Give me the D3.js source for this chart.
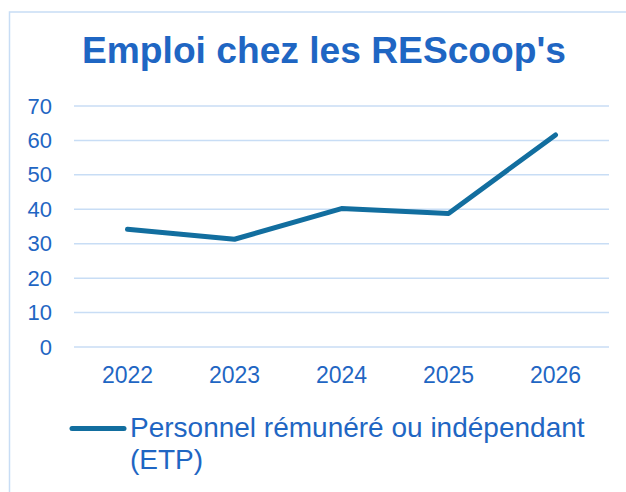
<!DOCTYPE html>
<html>
<head>
<meta charset="utf-8">
<script src="https://cdn.jsdelivr.net/npm/d3@7"></script>
<style>
  body { margin: 0; background: #fff; }
  svg { display: block; font-family: "Liberation Sans", Arial, sans-serif; }
</style>
</head>
<body>
<div id="chart"></div>
<script>
// Données
const years = ["2022", "2023", "2024", "2025", "2026"];
const values = [34.2, 31.3, 40.2, 38.8, 61.6];
const yTicks = [0, 10, 20, 30, 40, 50, 60, 70];
const seriesName = ["Personnel rémunéré ou indépendant", "(ETP)"];

const W = 626, H = 492;
const textColor = "#1f66c3";
const lineColor = "#126e9f";
const gridColor = "#c8ddf5";

const svg = d3.select("#chart").append("svg")
    .attr("width", W)
    .attr("height", H);

// Cadre
svg.append("rect")
    .attr("x", 9.5).attr("y", 12)
    .attr("width", 640).attr("height", 500)
    .attr("fill", "none")
    .attr("stroke", gridColor)
    .attr("stroke-width", 1.5);

// Titre
svg.append("text")
    .attr("x", 324).attr("y", 63)
    .attr("text-anchor", "middle")
    .attr("font-size", 37)
    .attr("font-weight", "bold")
    .attr("textLength", 484)
    .attr("lengthAdjust", "spacingAndGlyphs")
    .attr("fill", textColor)
    .text("Emploi chez les REScoop's");

// Échelles
const x = d3.scaleBand().domain(years).range([74, 609]);
const y = d3.scaleLinear().domain([0, 70]).range([347, 106]);

// Grille
svg.append("g")
    .selectAll("line")
    .data(yTicks)
    .enter().append("line")
    .attr("x1", 74).attr("x2", 609)
    .attr("y1", d => y(d)).attr("y2", d => y(d))
    .attr("stroke", gridColor)
    .attr("stroke-width", 1.5);

// Axe Y
const yAxis = svg.append("g")
    .attr("transform", "translate(52,0)")
    .call(d3.axisLeft(y).tickValues(yTicks).tickSize(0).tickPadding(0));
yAxis.select(".domain").remove();
yAxis.selectAll("text")
    .attr("font-size", 22)
    .attr("font-family", "Liberation Sans, Arial, sans-serif")
    .attr("fill", textColor);

// Axe X
const xAxis = svg.append("g")
    .attr("transform", "translate(0,383)")
    .call(d3.axisBottom(x).tickSize(0).tickPadding(0));
xAxis.select(".domain").remove();
xAxis.selectAll("text")
    .attr("y", 0)
    .attr("dy", 0)
    .attr("font-size", 23)
    .attr("font-family", "Liberation Sans, Arial, sans-serif")
    .attr("fill", textColor);

// Ligne
const line = d3.line()
    .x((d, i) => x(years[i]) + x.bandwidth() / 2)
    .y(d => y(d));

svg.append("path")
    .datum(values)
    .attr("d", line)
    .attr("fill", "none")
    .attr("stroke", lineColor)
    .attr("stroke-width", 5)
    .attr("stroke-linecap", "round")
    .attr("stroke-linejoin", "round");

// Légende
svg.append("line")
    .attr("x1", 72).attr("x2", 124)
    .attr("y1", 428.5).attr("y2", 428.5)
    .attr("stroke", lineColor)
    .attr("stroke-width", 5)
    .attr("stroke-linecap", "round");

svg.append("text")
    .attr("x", 130).attr("y", 437)
    .attr("font-size", 28)
    .attr("fill", textColor)
    .selectAll("tspan")
    .data(seriesName)
    .enter().append("tspan")
    .attr("x", 130)
    .attr("dy", (d, i) => i === 0 ? 0 : 32)
    .text(d => d);
</script>
</body>
</html>
